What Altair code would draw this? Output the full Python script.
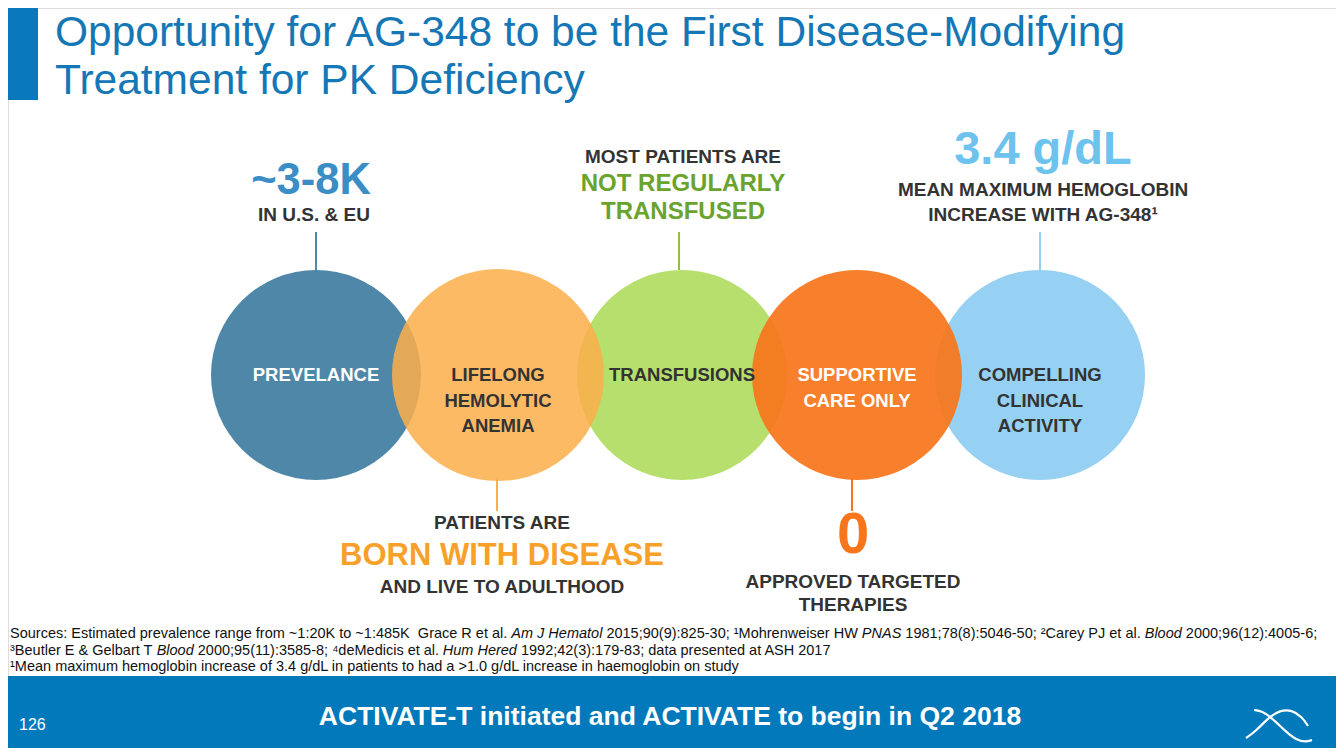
import altair as alt
import pandas as pd

# ---------------- data ----------------
circle_labels = ["PREVELANCE", "LIFELONG\nHEMOLYTIC\nANEMIA", "TRANSFUSIONS",
                 "SUPPORTIVE\nCARE ONLY", "COMPELLING\nCLINICAL\nACTIVITY"]
circle_colors = ["#4F87A8", "#FBAF4C", "#B7DF6E", "#F7761C", "#96D0F2"]
circle_text_colors = ["#FFFFFF", "#333333", "#333333", "#FFFFFF", "#333333"]
circle_opacity = [1.0, 0.86, 1.0, 0.93, 1.0]
circle_layer = [0, 1, 0, 1, 0]
circle_x = [316, 498, 682, 857, 1040]
circle_y = [375, 375, 375, 375, 375]
circle_r = [105, 106, 105, 105, 105]

stem_x = [316, 679, 1040, 497, 852]
stem_y1 = [232, 232, 232, 478, 478]
stem_y2 = [270, 270, 270, 511, 511]
stem_colors = ["#4F87A8", "#8CC63F", "#96D0F2", "#FBAF4C", "#F7761C"]

callout_text = ["~3-8K", "IN U.S. & EU",
                "MOST PATIENTS ARE", "NOT REGULARLY\nTRANSFUSED",
                "3.4 g/dL", "MEAN MAXIMUM HEMOGLOBIN\nINCREASE WITH AG-348¹",
                "PATIENTS ARE", "BORN WITH DISEASE", "AND LIVE TO ADULTHOOD",
                "0", "APPROVED TARGETED\nTHERAPIES"]
callout_x = [311, 314, 683, 683, 1043, 1043, 502, 502, 502, 853, 853]
callout_y = [181, 215, 157, 184, 150, 190, 523, 556, 587, 536, 582]
callout_size = [43.5, 19, 19, 24, 47, 19, 19, 31, 19, 58, 19]
callout_color = ["#3A8DC5", "#333333", "#333333", "#6AA32E", "#6DC2EE", "#333333",
                 "#333333", "#F7A12A", "#333333", "#F7761C", "#333333"]

title_lines = ["Opportunity for AG-348 to be the First Disease-Modifying",
               "Treatment for PK Deficiency"]

# footnotes: each line is a list of (segment text, italic)
footnote_lines = [
    [("Sources: Estimated prevalence range from ~1:20K to ~1:485K\u00a0 Grace R et al.", False),
     ("Am J Hematol", True),
     ("2015;90(9):825-30; ¹Mohrenweiser HW", False),
     ("PNAS", True),
     ("1981;78(8):5046-50; ²Carey PJ et al.", False),
     ("Blood", True),
     ("2000;96(12):4005-6;", False)],
    [("³Beutler E & Gelbart T", False),
     ("Blood", True),
     ("2000;95(11):3585-8; ⁴deMedicis et al.", False),
     ("Hum Hered", True),
     ("1992;42(3):179-83; data presented at ASH 2017", False)],
    [("¹Mean maximum hemoglobin increase of 3.4 g/dL in patients to had a >1.0 g/dL increase in haemoglobin on study", False)],
]
foot_line_y = [634, 651, 667]

footer_text = "ACTIVATE-T initiated and ACTIVATE to begin in Q2 2018"
page_number = "126"

# logo strokes (two crossing waves)
logo_a_x = [1246, 1256, 1268, 1280, 1292, 1302, 1308]
logo_a_y = [738, 731, 718, 710, 710, 717, 726]
logo_b_x = [1254, 1262, 1272, 1284, 1296, 1306, 1312]
logo_b_y = [710, 711, 718, 730, 740, 742, 740]

FONT = "Liberation Sans"
FOOT_SIZE = 14.5

# Arial / Liberation Sans advance widths (1/1000 em) for laying out footnote runs
_w = {" ": 278, "\u00a0": 278, "!": 278, "&": 667, "(": 333, ")": 333, ",": 278,
      "-": 333, ".": 278, "/": 278, ":": 278, ";": 278, ">": 584, "<": 584, "~": 584,
      "¹": 333, "²": 333, "³": 333, "⁴": 333}
for ch in "0123456789":
    _w[ch] = 556
for ch, v in zip("ABCDEFGHIJKLMNOPQRSTUVWXYZ",
                 [667, 667, 722, 722, 667, 611, 778, 722, 278, 500, 667, 556, 833, 722,
                  778, 667, 778, 722, 667, 611, 722, 667, 944, 667, 667, 611]):
    _w[ch] = v
for ch, v in zip("abcdefghijklmnopqrstuvwxyz",
                 [556, 556, 500, 556, 556, 278, 556, 556, 222, 222, 500, 222, 833, 556,
                  556, 556, 556, 333, 500, 278, 556, 500, 722, 500, 500, 500]):
    _w[ch] = v


def text_width(s, size):
    return sum(_w.get(c, 556) for c in s) * size / 1000.0


W, H = 1328, 740
xs = alt.Scale(domain=[8, 8 + W], nice=False, zero=False)
ys = alt.Scale(domain=[8, 8 + H], nice=False, zero=False, reverse=True)


def X(f="x"):
    return alt.X(f"{f}:Q", scale=xs, axis=None)


def Y(f="y"):
    return alt.Y(f"{f}:Q", scale=ys, axis=None)


layers = []

# title bar
bar = pd.DataFrame({"x": [0], "x2": [38], "y": [0], "y2": [100]})
layers.append(alt.Chart(bar).mark_rect(color="#0A78BD").encode(
    x=X(), x2="x2:Q", y=Y(), y2="y2:Q"))

# title
tdf = pd.DataFrame({"t": ["\n".join(title_lines)], "x": [55], "y": [33]})
layers.append(alt.Chart(tdf).mark_text(
    align="left", baseline="middle", font=FONT, fontSize=42.5, color="#1577B5",
    lineBreak="\n", lineHeight=48).encode(x=X(), y=Y(), text="t:N"))

# stems
sdf = pd.DataFrame({"x": stem_x, "y": stem_y1, "y2": stem_y2, "c": stem_colors})
layers.append(alt.Chart(sdf).mark_rule(strokeWidth=2).encode(
    x=X(), y=Y(), y2="y2:Q", color=alt.Color("c:N", scale=None)))

# circles
cdf = pd.DataFrame({"x": circle_x, "y": circle_y, "r": circle_r, "c": circle_colors,
                    "o": circle_opacity, "layer": circle_layer,
                    "label": circle_labels, "tc": circle_text_colors})
cdf["size"] = (2 * cdf["r"]) ** 2
for lv in [0, 1]:
    sub = cdf[cdf["layer"] == lv]
    layers.append(alt.Chart(sub).mark_point(shape="circle", filled=True, strokeWidth=0).encode(
        x=X(), y=Y(), size=alt.Size("size:Q", scale=None),
        color=alt.Color("c:N", scale=None), opacity=alt.Opacity("o:Q", scale=None)))

layers.append(alt.Chart(cdf).mark_text(
    font=FONT, fontSize=18.5, fontWeight="bold", lineBreak="\n", lineHeight=25.5,
    align="center", baseline="middle").encode(
    x=X(), y=Y(), text="label:N", color=alt.Color("tc:N", scale=None)))

# callouts
kdf = pd.DataFrame({"t": callout_text, "x": callout_x, "y": callout_y,
                    "s": callout_size, "c": callout_color})
for i, row in kdf.iterrows():
    lh = row["s"] * 1.2 if row["s"] < 30 else row["s"]
    if row["t"].startswith("NOT"):
        lh = 28
    if row["t"].startswith("MEAN"):
        lh = 25
    if row["t"].startswith("APPROVED"):
        lh = 23
    layers.append(alt.Chart(kdf.iloc[[i]]).mark_text(
        font=FONT, fontWeight="bold", fontSize=float(row["s"]), lineBreak="\n",
        lineHeight=lh, align="center", baseline="middle", color=row["c"]).encode(
        x=X(), y=Y(), text="t:N"))

# footnotes: lay runs out one after another
rows = []
for li, segs in enumerate(footnote_lines):
    cx = 10.0
    for txt, it in segs:
        rows.append({"t": txt, "x": cx, "y": foot_line_y[li], "it": it})
        cx += text_width(txt + " ", FOOT_SIZE)
fdf = pd.DataFrame(rows)
for it in [False, True]:
    layers.append(alt.Chart(fdf[fdf["it"] == it]).mark_text(
        font=FONT, fontSize=FOOT_SIZE, align="left", baseline="middle", color="#111111",
        fontStyle="italic" if it else "normal").encode(
        x=X(), y=Y(), text="t:N"))

# footer band
band = pd.DataFrame({"x": [0], "x2": [1344], "y": [676], "y2": [756]})
layers.append(alt.Chart(band).mark_rect(color="#0179BA").encode(
    x=X(), x2="x2:Q", y=Y(), y2="y2:Q"))

ftdf = pd.DataFrame({"t": [footer_text], "x": [670], "y": [717]})
layers.append(alt.Chart(ftdf).mark_text(
    font=FONT, fontSize=26.5, fontWeight="bold", color="white", align="center",
    baseline="middle").encode(x=X(), y=Y(), text="t:N"))

pdf = pd.DataFrame({"t": [page_number], "x": [19], "y": [725]})
layers.append(alt.Chart(pdf).mark_text(
    font=FONT, fontSize=16, color="white", align="left", baseline="middle").encode(
    x=X(), y=Y(), text="t:N"))

# logo
la = pd.DataFrame({"x": logo_a_x, "y": logo_a_y, "i": range(len(logo_a_x))})
lb = pd.DataFrame({"x": logo_b_x, "y": logo_b_y, "i": range(len(logo_b_x))})
for d in (la, lb):
    layers.append(alt.Chart(d).mark_line(color="white", strokeWidth=2.2, interpolate="basis").encode(
        x=X(), y=Y(), order="i:Q"))

chart = alt.layer(*layers).properties(width=W, height=H).configure_view(
    stroke=None).configure(padding=0, autosize=alt.AutoSizeParams(type="none"))

chart.save("out.html", embed_options={"renderer": "svg", "actions": False})
